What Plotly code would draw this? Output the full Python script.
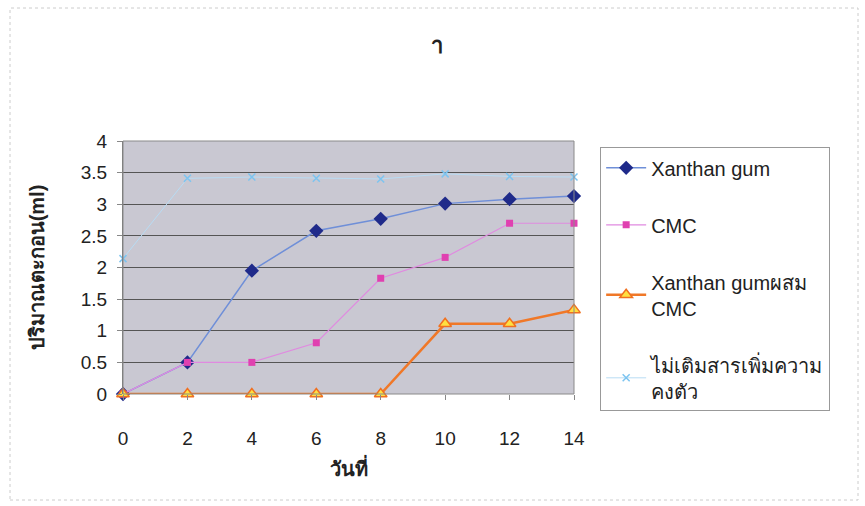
import plotly.graph_objects as go

days = [0, 2, 4, 6, 8, 10, 12, 14]
xanthan = [0, 0.5, 1.95, 2.58, 2.77, 3.01, 3.08, 3.13]
cmc = [0, 0.5, 0.5, 0.81, 1.83, 2.16, 2.7, 2.7]
mix = [0, 0, 0, 0, 0, 1.11, 1.11, 1.33]
none_ = [2.14, 3.41, 3.43, 3.41, 3.4, 3.48, 3.44, 3.43]

names = ["Xanthan gum", "CMC", "Xanthan gumผสม<br>CMC", "ไม่เติมสารเพิ่มความ<br>คงตัว"]
ytick_vals = [0, 0.5, 1, 1.5, 2, 2.5, 3, 3.5, 4]
ytick_text = ["0", "0.5", "1", "1.5", "2", "2.5", "3", "3.5", "4"]

FONT = "Liberation Sans, Arial, Noto Sans, sans-serif"

fig = go.Figure()
fig.add_trace(go.Scatter(x=days, y=xanthan, name=names[0], mode="lines+markers",
                         line=dict(color="#6f8fd8", width=1.5),
                         marker=dict(symbol="diamond", size=11, color="#1f2a8a"),
                         legendgroup="a", cliponaxis=False))
fig.add_trace(go.Scatter(x=days, y=cmc, name=names[1], mode="lines+markers",
                         line=dict(color="#e08ae0", width=1.2),
                         marker=dict(symbol="square", size=7, color="#e040b0"),
                         legendgroup="b", cliponaxis=False))
fig.add_trace(go.Scatter(x=days, y=mix, name=names[2], mode="lines+markers",
                         line=dict(color="#f07828", width=2.5),
                         marker=dict(symbol="triangle-up", size=11, color="#ffe040",
                                     line=dict(color="#f07020", width=1.5)),
                         legendgroup="c", cliponaxis=False))
fig.add_trace(go.Scatter(x=days, y=none_, name=names[3], mode="lines+markers",
                         line=dict(color="#b8dcf4", width=1),
                         marker=dict(symbol="x-thin", size=7, color="#7cc4f0",
                                     line=dict(color="#7cc4f0", width=1.5)),
                         legendgroup="d", cliponaxis=False))

fig.update_layout(
    width=865, height=506,
    margin=dict(l=123, r=291, t=141, b=112),
    paper_bgcolor="white",
    plot_bgcolor="#c9c8d2",
    font=dict(family=FONT, size=19, color="#222222"),
    title=dict(text="<b>า</b>", x=(437) / 865, xanchor="center", y=1 - 45 / 506, yanchor="middle",
               font=dict(size=22)),
    showlegend=True,
    legend=dict(x=1.058, xanchor="left", y=0.975, yanchor="top",
                bgcolor="white", bordercolor="#999999", borderwidth=1,
                font=dict(size=20), tracegroupgap=28, itemwidth=40,
                traceorder="grouped", maxheight=320),
    xaxis=dict(range=[0, 14], tickvals=days, ticktext=[str(d) for d in days],
               showgrid=False, zeroline=False, showline=False,
               ticks="outside", ticklen=5, tickcolor="#888888",
               ticklabelstandoff=22,
               title=dict(text="<b>วันที่</b>", standoff=14, font=dict(size=20))),
    yaxis=dict(range=[0, 4], tickvals=ytick_vals, ticktext=ytick_text,
               showgrid=True, gridcolor="#555555", gridwidth=1, zeroline=False,
               showline=True, linecolor="#777777", ticks="outside", ticklen=5,
               tickcolor="#888888", ticklabelstandoff=6,
               title=dict(text="<b>ปริมาณตะกอน(ml)</b>", standoff=30, font=dict(size=20))),
)
fig.add_shape(type="rect", xref="paper", yref="paper",
              x0=0, x1=1, y0=0, y1=1, line=dict(color="#8a8a8a", width=1))
fig.add_shape(type="rect", xref="paper", yref="paper",
              x0=(10 - 123) / 451, x1=(858 - 123) / 451,
              y0=(394 - 500) / 253, y1=(394 - 8) / 253,
              line=dict(color="#cccccc", width=1, dash="dot"))

fig.write_html("out.html")
